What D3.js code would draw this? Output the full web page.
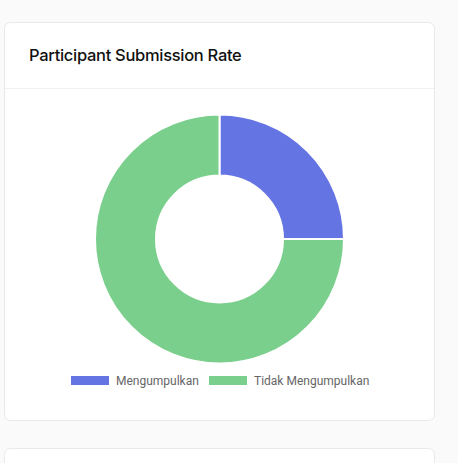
<!DOCTYPE html>
<html><head><meta charset="utf-8">
<script src="https://cdn.jsdelivr.net/npm/d3@7"></script>
<style>
html,body{margin:0;padding:0;background:#fafafa;width:458px;height:463px;overflow:hidden;}
svg{display:block;}
</style></head>
<body>
<svg id="c" width="458" height="463"></svg>
<script>
const categories = ["Mengumpulkan", "Tidak Mengumpulkan"];
const values = [25, 75];
const colors = ["#6574e3", "#7acf8c"];
const title = "Participant Submission Rate";

const svg = d3.select("#c");
// cards
svg.append("rect").attr("x",4.5).attr("y",22.5).attr("width",430).attr("height",398)
  .attr("rx",6).attr("fill","#fff").attr("stroke","#e9e9e9");
svg.append("rect").attr("x",4.5).attr("y",448.5).attr("width",430).attr("height",40)
  .attr("rx",6).attr("fill","#fff").attr("stroke","#e9e9e9");
svg.append("line").attr("x1",5).attr("x2",434).attr("y1",88.5).attr("y2",88.5)
  .attr("stroke","#efefef");
const t = svg.append("text").attr("x",29).attr("y",61).text(title)
  .attr("font-family","Inter, 'Noto Sans', sans-serif").attr("font-size",16.5)
  .attr("font-weight",500).attr("fill","#111").attr("letter-spacing",-0.3);
// fit width to reference
const w = t.node().getComputedTextLength();
if (Math.abs(w-211) > 3) t.attr("textLength",211).attr("lengthAdjust","spacing");

const cx = 219.5, cy = 239, outerR = 124.5, innerR = 63.5;
const pie = d3.pie().sort(null).value(d=>d.v);
const arc = d3.arc().innerRadius(innerR).outerRadius(outerR);
const data = categories.map((c,i)=>({c, v:values[i], col:colors[i]}));
svg.append("g").attr("transform",`translate(${cx},${cy})`)
  .selectAll("path").data(pie(data)).join("path")
  .attr("d",arc).attr("fill",d=>d.data.col).attr("stroke","#fff").attr("stroke-width",2);

// legend
const legend = svg.append("g").attr("font-family","Roboto, 'Liberation Sans', sans-serif")
  .attr("font-size",12).attr("fill","#666");
const lx = [71, 209];
data.forEach((d,i)=>{
  legend.append("rect").attr("x",lx[i]).attr("y",376).attr("width",38).attr("height",9).attr("fill",d.col);
  legend.append("text").attr("x",lx[i]+45).attr("y",385).text(d.c);
});
</script>
</body></html>
